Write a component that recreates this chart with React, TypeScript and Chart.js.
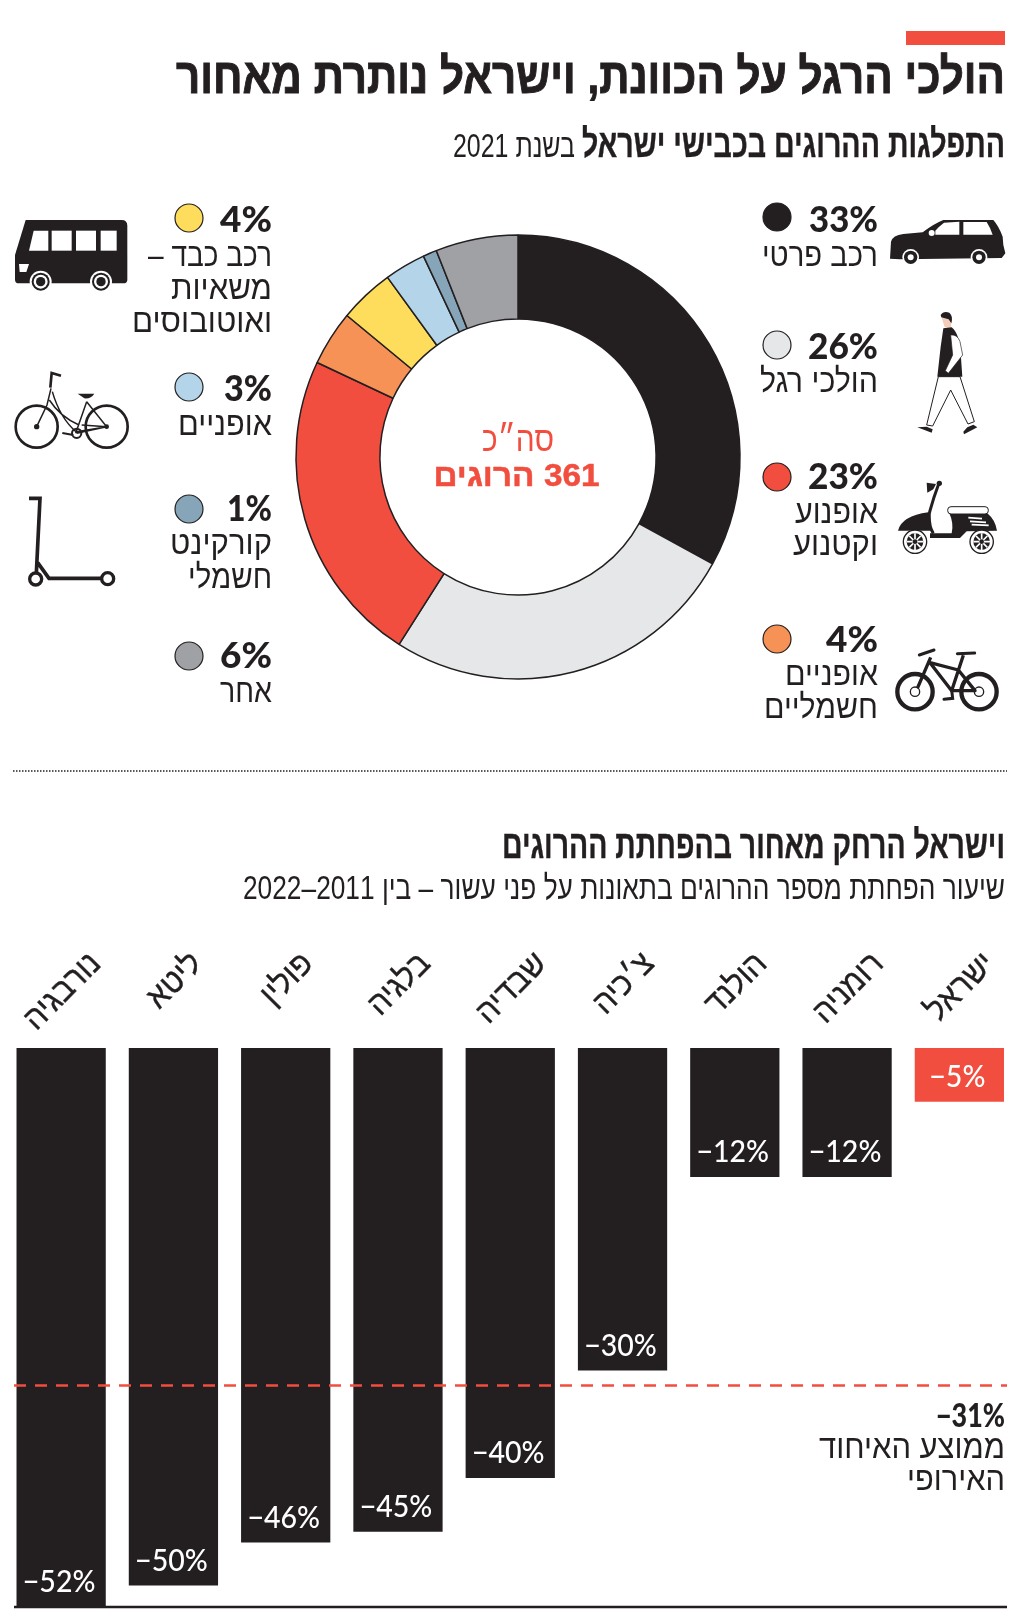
import React, { useEffect, useRef } from "react";
import { Chart, registerables } from "chart.js";

Chart.register(...registerables);

const INK = "#231f20";
const RED = "#f24e3f";
const HEB = '"Liberation Sans"';
const NUM = "Lato";

// Doughnut data (share of road deaths, 2021)
const shareKeys = ["car", "walk", "moto", "ebike", "heavy", "bike", "scooter", "other"];
const shareValues = [33, 26, 23, 4, 4, 3, 1, 6];
const shareColors = [INK, "#e6e7e8", RED, "#f79257", "#ffdd5c", "#b4d5e9", "#86a5b8", "#a0a1a5"];

// Bar data (change in road deaths over the decade)
const countries = ["נורבגיה", "ליטא", "פולין", "בלגיה", "שבדיה", "צ׳כיה", "הולנד", "רומניה", "ישראל"];
const changes = [-52, -50, -46, -45, -40, -30, -12, -12, -5];
const euAverageLine = -31.4;
const euAverageLabel = "−31%";

const fmt = (v: number) => `−${Math.abs(v)}%`;

// Legend layout
const legendLayout = [
  { k: "car", side: "R", cy: 217, pb: 232, pw: 69, lines: [["רכב פרטי", 266, 116]] },
  { k: "walk", side: "R", cy: 345, pb: 359, pw: 70, lines: [["הולכי רגל", 392, 118]] },
  { k: "moto", side: "R", cy: 477, pb: 489, pw: 70, lines: [["אופנוע", 523, 83], ["וקטנוע", 555, 85]] },
  { k: "ebike", side: "R", cy: 639, pb: 652, pw: 52, lines: [["אופניים", 685, 93], ["חשמליים", 718, 114]] },
  { k: "heavy", side: "L", cy: 218, pb: 232, pw: 52, lines: [["רכב כבד –\u200F", 266, 124], ["משאיות", 299, 101], ["ואוטובוסים", 332, 140]] },
  { k: "bike", side: "L", cy: 387, pb: 401, pw: 48, lines: [["אופניים", 435, 94]] },
  { k: "scooter", side: "L", cy: 509, pb: 521, pw: 45, lines: [["קורקינט", 554, 102], ["חשמלי", 588, 84]] },
  { k: "other", side: "L", cy: 656, pb: 668, pw: 52, lines: [["אחר", 702, 52]] },
] as const;

function Txt(p: { x: number; y: number; w?: number; s: number; b?: number; f?: string; c?: string; a?: "end" | "middle"; t: string; stroke?: number }) {
  return (
    <text
      x={p.x}
      y={p.y}
      fontFamily={p.f ?? HEB}
      fontSize={p.s}
      fontWeight={p.b ?? 400}
      fill={p.c ?? INK}
      textAnchor={p.a ?? "end"}
      stroke={p.stroke ? p.c ?? INK : undefined}
      strokeWidth={p.stroke}
      {...(p.w ? { textLength: p.w, lengthAdjust: "spacingAndGlyphs" } : {})}
    >
      {p.t}
    </text>
  );
}

function Icons() {
  return (
    <g>
      {/* car + walker */}
      <svg x={880} y={200} width={130} height={240} viewBox="0 0 390 720">
        <path fill={INK} d="M30 176 L33 125 Q38 106 70 102 L128 97 Q160 72 190 60 L340 60 Q356 78 368 110 L370 135 L376 160 L365 174 L60 178 Z" />
        <path fill="#fff" d="M166 104 L238 104 L238 65 L192 68 Q176 80 166 92 Z M250 66 L320 66 Q332 85 338 104 L250 104 Z" />
        <circle cx={155} cy={99} r={9} fill="#fff" />
        {[92, 297].map((x) => (
          <g key={x}>
            <circle cx={x} cy={172} r={25} fill="#fff" />
            <circle cx={x} cy={172} r={20} fill={INK} />
            <circle cx={x} cy={172} r={9} fill="#fff" />
          </g>
        ))}
        <path fill="#f3cdb9" d="M184 350 L216 352 L212 385 L194 382 Z" />
        <path fill={INK} d="M182 345 Q190 332 208 338 Q220 348 214 370 L206 358 L184 352 Z" />
        <path fill="#fff" stroke={INK} strokeWidth={3} d="M175 530 L140 675 L158 678 L212 570 L264 672 L283 665 L240 530 Z" />
        <path fill={INK} d="M190 385 L215 382 Q238 400 242 460 L247 530 L172 530 L182 440 Z" />
        <path fill="#fff" stroke={INK} strokeWidth={2} d="M212 405 Q232 402 240 425 L248 465 L205 520 L196 512 L218 465 Z" />
        <path fill={INK} d="M112 682 L140 680 L158 688 L155 698 Z M250 695 L262 682 L280 674 L292 682 L252 703 Z" />
      </svg>
      {/* moped + e-bike */}
      <svg x={880} y={470} width={130} height={250} viewBox="0 0 390 750">
        <path fill={INK} d="M140 38 L168 42 L160 58 L142 68 Z" />
        <circle cx={178} cy={40} r={8} fill={INK} />
        <path fill="none" stroke={INK} strokeWidth={9} d="M176 42 Q158 90 148 130 Q146 170 160 190" />
        <path fill={INK} d="M54 182 Q65 138 145 127 L152 182 Z" />
        <path fill={INK} d="M150 190 L215 190 Q222 160 208 130 L322 130 Q346 150 351 182 L260 184 L240 204 L150 204 Z" />
        <rect x={203} y={110} width={122} height={22} rx={10} fill="#fff" stroke={INK} strokeWidth={3} />
        <path stroke="#fff" strokeWidth={5} d="M265 143 L306 146 M270 154 L318 157 M275 164 L326 166" />
        {[105, 305].map((x) => (
          <g key={x}>
            <circle cx={x} cy={215} r={35} fill="#fff" stroke={INK} strokeWidth={4} />
            <circle cx={x} cy={215} r={25} fill={INK} />
            <path stroke="#fff" strokeWidth={5} d={`M${x - 25} ${215} L${x + 25} ${215} M${x} ${190} L${x} ${240} M${x - 17} ${198} L${x + 17} ${232} M${x + 17} ${198} L${x - 17} ${232}`} />
            <circle cx={x} cy={215} r={7} fill={INK} />
          </g>
        ))}
        {[105, 297].map((x) => (
          <g key={x}>
            <circle cx={x} cy={665} r={53} fill="none" stroke={INK} strokeWidth={13} />
            <circle cx={x} cy={665} r={14} fill="#fff" stroke={INK} strokeWidth={4} />
          </g>
        ))}
        <path fill="none" stroke={INK} strokeWidth={10} strokeLinejoin="round" d="M152 562 L112 655 M150 578 L215 662 L285 662 L235 600 L150 578 M250 556 L215 662" />
        <path fill="none" stroke={INK} strokeWidth={9} strokeLinecap="round" d="M118 555 L162 540 M232 551 L284 549 M192 688 L218 685 L215 660" />
      </svg>
      {/* bus + city bike */}
      <svg x={5} y={205} width={130} height={250} viewBox="0 0 390 750">
        <path fill={INK} d="M62 45 L350 45 Q367 45 367 62 L367 224 Q367 235 355 235 L42 235 Q30 235 30 224 L30 150 Z" />
        <path fill="#fff" d="M86 77 L130 77 L130 137 L72 137 Z" />
        <rect x={140} y={77} width={60} height={60} fill="#fff" />
        <rect x={213} y={77} width={60} height={60} fill="#fff" />
        <rect x={287} y={77} width={48} height={60} fill="#fff" />
        <path fill="#fff" d="M42 177 L72 177 L64 201 L44 201 Z" />
        {[107, 288].map((x) => (
          <g key={x}>
            <circle cx={x} cy={230} r={33} fill="#fff" />
            <circle cx={x} cy={230} r={27} fill={INK} />
            <circle cx={x} cy={230} r={21} fill="#fff" />
            <circle cx={x} cy={230} r={14} fill={INK} />
          </g>
        ))}
        {[95, 305].map((x) => (
          <circle key={x} cx={x} cy={665} r={63} fill="none" stroke={INK} strokeWidth={8} />
        ))}
        <path fill="none" stroke={INK} strokeWidth={8} d="M168 512 L140 504 L136 548" />
        <path fill="none" stroke={INK} strokeWidth={4.5} d="M138 550 L126 600 L95 665 M142 560 Q165 640 215 682 M133 585 Q165 635 222 660 M245 590 L212 685 M245 590 L305 665 L215 685 M215 680 L305 665 L230 660" />
        <path fill={INK} d="M218 566 L268 566 Q258 582 238 580 Z" />
        <circle cx={215} cy={685} r={14} fill="none" stroke={INK} strokeWidth={6} />
        <circle cx={95} cy={665} r={8} fill={INK} />
        <circle cx={305} cy={665} r={7} fill={INK} />
        <path stroke={INK} strokeWidth={6} d="M172 684 L205 690" />
      </svg>
      {/* kick scooter */}
      <svg x={5} y={480} width={130} height={120} viewBox="0 0 390 360">
        <path fill="none" stroke={INK} strokeWidth={11} d="M72 55 L105 55 L94 280 M98 248 L132 295 L290 295" />
        <circle cx={92} cy={297} r={18} fill="#fff" stroke={INK} strokeWidth={10} />
        <circle cx={308} cy={296} r={18} fill="#fff" stroke={INK} strokeWidth={10} />
      </svg>
    </g>
  );
}

export default function App() {
  const donutRef = useRef<HTMLCanvasElement>(null);
  const barRef = useRef<HTMLCanvasElement>(null);

  useEffect(() => {
    const donut = new Chart(donutRef.current!, {
      type: "doughnut",
      data: {
        labels: shareKeys,
        datasets: [
          {
            data: shareValues,
            backgroundColor: shareColors,
            borderColor: INK,
            borderWidth: 1.5,
          },
        ],
      },
      options: {
        responsive: false,
        animation: false,
        cutout: "62.2%",
        radius: 222,
        layout: { padding: 0 },
        plugins: { legend: { display: false }, tooltip: { enabled: false } },
      },
    });

    const barDecor = {
      id: "barDecor",
      afterDatasetsDraw(chart: any) {
        const { ctx, scales, chartArea } = chart;
        const meta = chart.getDatasetMeta(0);
        ctx.save();
        // value labels inside the bars
        ctx.fillStyle = "#fff";
        ctx.textAlign = "center";
        ctx.textBaseline = "alphabetic";
        ctx.font = `500 31px ${NUM}`;
        meta.data.forEach((bar: any, i: number) => {
          ctx.save();
          ctx.translate(bar.x - 2, bar.y - 15);
          ctx.scale(0.92, 1);
          ctx.fillText(fmt(changes[i]), 0, 0);
          ctx.restore();
        });
        // EU average
        const yAvg = scales.y.getPixelForValue(euAverageLine);
        ctx.strokeStyle = RED;
        ctx.lineWidth = 2.5;
        ctx.setLineDash([12, 9]);
        ctx.beginPath();
        ctx.moveTo(14, yAvg);
        ctx.lineTo(1007, yAvg);
        ctx.stroke();
        ctx.setLineDash([]);
        // base line
        const yBase = scales.y.getPixelForValue(scales.y.min);
        ctx.strokeStyle = INK;
        ctx.lineWidth = 2.5;
        ctx.beginPath();
        ctx.moveTo(14, yBase);
        ctx.lineTo(1007, yBase);
        ctx.stroke();
        // rotated category labels, centred on each bar, tops aligned
        ctx.fillStyle = INK;
        ctx.strokeStyle = INK;
        ctx.lineWidth = 0.4;
        ctx.font = `400 33px ${HEB}`;
        const sx = 0.93;
        const topY = chartArea.top - 99;
        countries.forEach((name, i) => {
          const w = ctx.measureText(name).width * sx;
          const h = 23;
          const cx = scales.x.getPixelForValue(i);
          const cy = topY + ((w + h) * Math.SQRT1_2) / 2;
          ctx.save();
          ctx.translate(cx, cy);
          ctx.rotate(-Math.PI / 4);
          ctx.scale(sx, 1);
          ctx.textAlign = "center";
          ctx.fillText(name, 0, h / 2);
          ctx.strokeText(name, 0, h / 2);
          ctx.restore();
        });
        ctx.restore();
      },
    };

    const bars = new Chart(barRef.current!, {
      type: "bar",
      data: {
        labels: countries,
        datasets: [
          {
            data: changes,
            backgroundColor: countries.map((_, i) => (i === countries.length - 1 ? RED : INK)),
            barPercentage: 1,
            categoryPercentage: 0.795,
          },
        ],
      },
      options: {
        responsive: false,
        animation: false,
        layout: { padding: { left: 5, right: 8.5, top: 108, bottom: 9 } },
        scales: {
          x: { display: false },
          y: { display: false, min: -52, max: 0 },
        },
        plugins: { legend: { display: false }, tooltip: { enabled: false } },
      },
      plugins: [barDecor],
    });

    return () => {
      donut.destroy();
      bars.destroy();
    };
  }, []);

  return (
    <div style={{ position: "absolute", left: 0, top: 0, width: 1024, height: 1616, overflow: "hidden", background: "#fff" }}>
      <canvas ref={donutRef} width={476} height={476} style={{ position: "absolute", left: 280, top: 219 }} />
      <canvas ref={barRef} width={1024} height={676} style={{ position: "absolute", left: 0, top: 940 }} />
      <svg width={1024} height={1616} style={{ position: "absolute", left: 0, top: 0, pointerEvents: "none" }}>
        <rect x={906} y={31} width={99} height={14} fill={RED} />
        <Txt x={1005} y={93} w={829} s={49} b={700} stroke={1} t="הולכי הרגל על הכוונת, וישראל נותרת מאחור" />
        <Txt x={1005} y={157} w={423} s={39} b={700} stroke={0.4} t="התפלגות ההרוגים בכבישי ישראל" />
        <Txt x={575} y={157} w={122} s={33} t="בשנת 2021" />

        {legendLayout.map((e) => {
          const i = shareKeys.indexOf(e.k);
          const right = e.side === "R" ? 878 : 272;
          const cx = e.side === "R" ? 777 : 189;
          return (
            <g key={e.k}>
              <circle cx={cx} cy={e.cy} r={14} fill={shareColors[i]} stroke={INK} strokeWidth={1.2} />
              <Txt x={right} y={e.pb} s={36} b={900} f={NUM} w={e.pw} t={`${shareValues[i]}%`} />
              {e.lines.map(([t, y, w]) => (
                <Txt key={t as string} x={right} y={y as number} w={w as number} s={33} t={t as string} />
              ))}
            </g>
          );
        })}

        <Txt x={518} y={451} a="middle" w={72} s={35} c={RED} t="סה״כ" />
        <Txt x={516.5} y={486} a="middle" w={166} s={32} b={700} c={RED} stroke={0.5} t={"\u200F361 הרוגים"} />

        <Icons />

        <line x1={13} x2={1007} y1={771} y2={771} stroke={INK} strokeWidth={1.5} strokeDasharray="1.5 1.5" />

        <Txt x={1005} y={858} w={503} s={39} b={700} stroke={0.4} t="וישראל הרחק מאחור בהפחתת ההרוגים" />
        <Txt x={1005} y={899} w={762} s={34} t="שיעור הפחתת מספר ההרוגים בתאונות על פני עשור – בין 2011–2022" />

        <Txt x={1005} y={1427} s={33} b={900} f={NUM} w={69} t={euAverageLabel} />
        <Txt x={1005} y={1458} w={186} s={33} t="ממוצע האיחוד" />
        <Txt x={1005} y={1490} w={98} s={33} t="האירופי" />
      </svg>
    </div>
  );
}
